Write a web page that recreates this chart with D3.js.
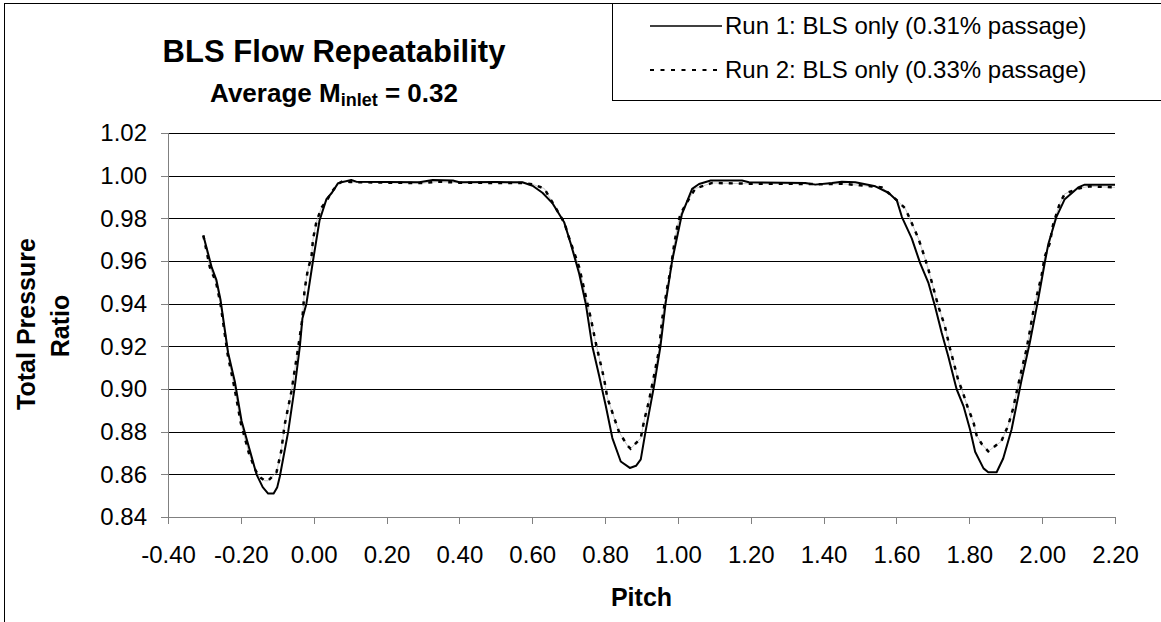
<!DOCTYPE html>
<html>
<head>
<meta charset="utf-8">
<script src="https://cdn.jsdelivr.net/npm/d3@7"></script>
<style>
  body { margin: 0; background: #fff; }
  svg { font-family: "Liberation Sans", Arial, sans-serif; }
</style>
</head>
<body>
<div id="chart"></div>
<script>
// pitch / total pressure ratio
var run1Pitch = [-0.303, -0.280, -0.267, -0.256, -0.235, -0.216, -0.198, -0.175, -0.157, -0.140, -0.125, -0.110, -0.100, -0.093,
  -0.070, -0.052, -0.038, -0.031, -0.020, -0.002, 0.016, 0.035, 0.050, 0.067, 0.103, 0.117, 0.200, 0.290, 0.327, 0.382,
  0.400, 0.500, 0.573, 0.601, 0.628, 0.656, 0.688, 0.706, 0.729, 0.747, 0.765, 0.784, 0.802, 0.820, 0.843, 0.868,
  0.885, 0.898, 0.911, 0.934, 0.952, 0.966, 0.984, 1.011, 1.039, 1.058, 1.090, 1.176, 1.195, 1.350, 1.377, 1.423,
  1.450, 1.487, 1.542, 1.578, 1.601, 1.615, 1.642, 1.665, 1.688, 1.706, 1.724, 1.742, 1.765, 1.784, 1.802, 1.816,
  1.839, 1.852, 1.875, 1.893, 1.916, 1.944, 1.966, 1.989, 2.008, 2.017, 2.039, 2.062, 2.099, 2.117, 2.200];
var run1Ratio = [0.972, 0.957, 0.951, 0.942, 0.917, 0.903, 0.885, 0.871, 0.860, 0.854, 0.851, 0.851, 0.854, 0.859,
  0.880, 0.901, 0.920, 0.933, 0.940, 0.960, 0.979, 0.989, 0.992, 0.9965, 0.998, 0.9972, 0.997, 0.9969, 0.998, 0.9977,
  0.9969, 0.997, 0.9969, 0.9953, 0.992, 0.987, 0.978, 0.968, 0.954, 0.940, 0.920, 0.906, 0.892, 0.877, 0.866, 0.863,
  0.864, 0.867, 0.880, 0.901, 0.920, 0.940, 0.960, 0.982, 0.9938, 0.9961, 0.9977, 0.9977, 0.9969, 0.9966, 0.9958, 0.9966,
  0.9972, 0.9969, 0.995, 0.992, 0.9884, 0.9806, 0.9706, 0.959, 0.9496, 0.9387, 0.9265, 0.9155, 0.900, 0.892, 0.881, 0.8706,
  0.8628, 0.861, 0.861, 0.8674, 0.881, 0.9047, 0.9217, 0.9419, 0.960, 0.968, 0.9806, 0.989, 0.9945, 0.9958, 0.9958];

var run2Pitch = [-0.303, -0.285, -0.268, -0.256, -0.236, -0.218, -0.200, -0.178, -0.160, -0.150, -0.134, -0.125, -0.102,
  -0.089, -0.080, -0.061, -0.052, -0.043, -0.031, -0.025, -0.016, -0.006, -0.002, 0.007, 0.021, 0.035, 0.048, 0.066,
  0.080, 0.100, 0.300, 0.340, 0.400, 0.500, 0.570, 0.600, 0.633, 0.688, 0.701, 0.729, 0.761, 0.774, 0.797, 0.806,
  0.838, 0.861, 0.870, 0.898, 0.907, 0.920, 0.934, 0.948, 0.957, 0.971, 0.980, 0.989, 0.998, 1.007, 1.030, 1.048,
  1.094, 1.200, 1.300, 1.400, 1.450, 1.500, 1.560, 1.592, 1.624, 1.660, 1.677, 1.688, 1.715, 1.733, 1.747, 1.770,
  1.781, 1.797, 1.811, 1.820, 1.835, 1.852, 1.866, 1.888, 1.907, 1.920, 1.930, 1.944, 1.957, 1.966, 1.975, 1.989,
  1.998, 2.007, 2.021, 2.030, 2.048, 2.062, 2.100, 2.130, 2.200];
var run2Ratio = [0.972, 0.957, 0.950, 0.940, 0.916, 0.901, 0.884, 0.870, 0.862, 0.859, 0.857, 0.857, 0.861,
  0.871, 0.883, 0.899, 0.909, 0.919, 0.933, 0.9465, 0.956, 0.962, 0.970, 0.978, 0.985, 0.988, 0.992, 0.996,
  0.9975, 0.997, 0.9965, 0.9972, 0.9967, 0.9966, 0.9966, 0.996, 0.994, 0.978, 0.971, 0.957, 0.933, 0.922, 0.905, 0.896,
  0.880, 0.8735, 0.872, 0.877, 0.885, 0.894, 0.906, 0.918, 0.933, 0.948, 0.956, 0.967, 0.976, 0.982, 0.989, 0.994,
  0.9966, 0.9962, 0.9962, 0.996, 0.9962, 0.9955, 0.9945, 0.9899, 0.9847, 0.9707, 0.962, 0.9558, 0.9387, 0.9294, 0.919, 0.9039,
  0.899, 0.8907, 0.8847, 0.8783, 0.874, 0.8708, 0.8726, 0.8755, 0.883, 0.8907, 0.8986, 0.9093, 0.9186, 0.927, 0.9357, 0.9465,
  0.9527, 0.962, 0.9684, 0.977, 0.9868, 0.9915, 0.994, 0.995, 0.9945];

var xTicks = [-0.4, -0.2, 0, 0.2, 0.4, 0.6, 0.8, 1.0, 1.2, 1.4, 1.6, 1.8, 2.0, 2.2];
var yTicks = [0.84, 0.86, 0.88, 0.90, 0.92, 0.94, 0.96, 0.98, 1.00, 1.02];
var seriesNames = ["Run 1: BLS only (0.31% passage)", "Run 2: BLS only (0.33% passage)"];

var svgWidth = 1161;
var svgHeight = 622;

var margin = { top: 133, bottom: 105, right: 46, left: 168 };
var width = svgWidth - margin.left - margin.right;
var height = svgHeight - margin.top - margin.bottom;

var svg = d3.select("#chart")
  .append("svg")
  .attr("width", svgWidth)
  .attr("height", svgHeight);

// chart frame
svg.append("rect")
  .attr("x", 4.5).attr("y", 3.5)
  .attr("width", svgWidth + 10).attr("height", svgHeight + 10)
  .attr("fill", "none").attr("stroke", "#000");

var chartGroup = svg.append("g")
  .attr("transform", `translate(${margin.left}, ${margin.top})`);

var xScale = d3.scaleLinear().domain([-0.4, 2.2]).range([0, width]);
var yScale = d3.scaleLinear().domain([0.84, 1.02]).range([height, 0]);

var fmt = d => d.toFixed(2);

// gridlines
chartGroup.append("g")
  .attr("class", "grid")
  .call(d3.axisLeft(yScale).tickValues(yTicks).tickSize(-width).tickFormat(""))
  .call(g => g.select(".domain").remove())
  .call(g => g.selectAll("line").attr("stroke", "#000").attr("shape-rendering", "crispEdges"));

var yAxis = chartGroup.append("g")
  .call(d3.axisLeft(yScale).tickValues(yTicks).tickSize(7).tickPadding(14).tickFormat(fmt));
yAxis.selectAll("path, line").attr("stroke", "#808080").attr("shape-rendering", "crispEdges");
yAxis.selectAll("text").attr("font-size", 24).attr("fill", "#000").attr("font-family", null);

var xAxis = chartGroup.append("g")
  .attr("transform", `translate(0, ${height})`)
  .call(d3.axisBottom(xScale).tickValues(xTicks).tickSize(7).tickPadding(22).tickFormat(fmt));
xAxis.selectAll("path, line").attr("stroke", "#808080").attr("shape-rendering", "crispEdges");
xAxis.selectAll("text").attr("font-size", 24).attr("fill", "#000").attr("font-family", null);

var run1 = run1Pitch.map((p, i) => ({ x: p, y: run1Ratio[i] }));
var run2 = run2Pitch.map((p, i) => ({ x: p, y: run2Ratio[i] }));

var line = d3.line()
  .x(d => xScale(d.x))
  .y(d => yScale(d.y));

// faint trace under the dotted run, like the original
chartGroup.append("path")
  .datum(run2)
  .attr("d", line)
  .attr("fill", "none")
  .attr("stroke", "#aaa")
  .attr("stroke-width", 0.7);

chartGroup.append("path")
  .datum(run1)
  .attr("d", line)
  .attr("fill", "none")
  .attr("stroke", "#000")
  .attr("stroke-width", 2)
  .attr("stroke-linejoin", "round");

chartGroup.append("path")
  .datum(run2)
  .attr("d", line)
  .attr("fill", "none")
  .attr("stroke", "#000")
  .attr("stroke-width", 2.5)
  .attr("stroke-dasharray", "4,6");

// titles
svg.append("text")
  .attr("x", 334).attr("y", 62)
  .attr("text-anchor", "middle")
  .attr("font-size", 31).attr("font-weight", "bold")
  .text("BLS Flow Repeatability");

var sub = svg.append("text")
  .attr("x", 334).attr("y", 102)
  .attr("text-anchor", "middle")
  .attr("font-size", 26).attr("font-weight", "bold");
sub.append("tspan").text("Average M");
sub.append("tspan").attr("font-size", 18).attr("dy", 4).text("inlet");
sub.append("tspan").attr("dy", -4).text(" = 0.32");

svg.append("text")
  .attr("transform", "translate(35, 324) rotate(-90)")
  .attr("text-anchor", "middle")
  .attr("font-size", 25).attr("font-weight", "bold")
  .text("Total Pressure");

svg.append("text")
  .attr("transform", "translate(69, 326) rotate(-90)")
  .attr("text-anchor", "middle")
  .attr("font-size", 25).attr("font-weight", "bold")
  .text("Ratio");

chartGroup.append("text")
  .attr("x", width / 2).attr("y", height + 89)
  .attr("text-anchor", "middle")
  .attr("font-size", 25).attr("font-weight", "bold")
  .text("Pitch");

// legend
var legend = svg.append("g");
legend.append("rect")
  .attr("x", 612.5).attr("y", 3.5)
  .attr("width", 600).attr("height", 97)
  .attr("fill", "#fff").attr("stroke", "#000");

var legendRows = legend.selectAll(".row")
  .data(seriesNames)
  .enter()
  .append("g")
  .attr("transform", (d, i) => `translate(0, ${26 + i * 44})`);

legendRows.append("line")
  .attr("x1", 650).attr("x2", 722)
  .attr("y1", 0).attr("y2", 0)
  .attr("stroke", "#000")
  .attr("stroke-width", (d, i) => i === 0 ? 1.5 : 2)
  .attr("stroke-dasharray", (d, i) => i === 0 ? null : "4,6.5");

legendRows.append("text")
  .attr("x", 725).attr("y", 0).attr("dy", "0.35em")
  .attr("font-size", 24)
  .text(d => d);
</script>
</body>
</html>
